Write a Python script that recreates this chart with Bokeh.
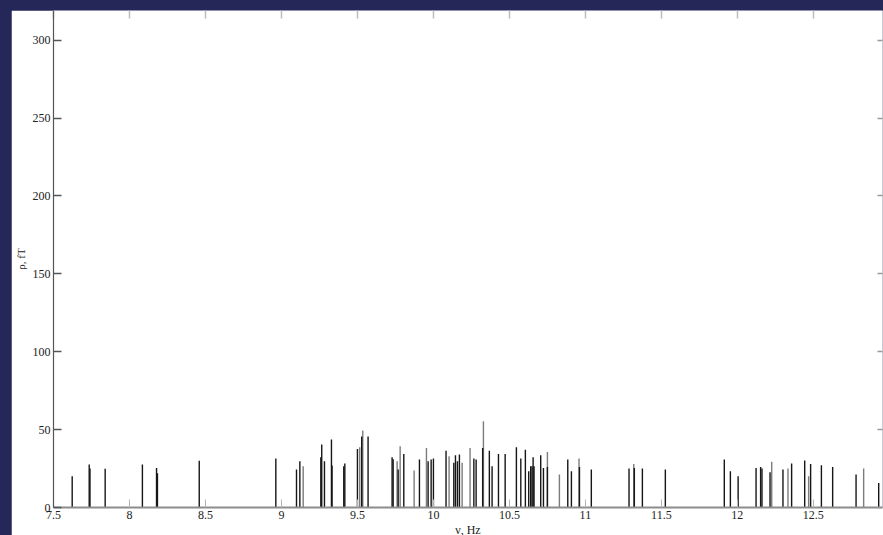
from bokeh.plotting import figure
from bokeh.models import LinearAxis, FixedTicker, Range1d, ColumnDataSource
from bokeh.layouts import column
from bokeh.embed import file_html
from bokeh.resources import INLINE

# Spectral lines: frequency (Hz) and amplitude (fT)
freq_dark = [7.623, 7.735, 7.740, 7.840, 8.085, 8.178, 8.184, 8.459, 8.963, 9.099,
             9.121, 9.259, 9.265, 9.283, 9.329, 9.333, 9.410, 9.417, 9.500, 9.528,
             9.570, 9.728, 9.735, 9.768, 9.805, 9.908, 9.965, 9.985, 10.000, 10.083,
             10.134, 10.145, 10.158, 10.171, 10.266, 10.281, 10.324, 10.368, 10.386, 10.428,
             10.472, 10.546, 10.575, 10.605, 10.627, 10.640, 10.649, 10.656, 10.662, 10.706,
             10.724, 10.750, 10.884, 10.908, 10.961, 11.039, 11.287, 11.322, 11.375, 11.526,
             11.914, 11.954, 12.005, 12.123, 12.153, 12.162, 12.215, 12.300, 12.357, 12.443,
             12.482, 12.553, 12.627, 12.781, 12.930]
amp_dark = [20.0, 27.6, 25.0, 24.8, 27.6, 25.4, 22.0, 30.0, 31.4, 24.4,
            29.7, 32.3, 40.4, 29.7, 43.6, 27.0, 26.5, 28.2, 37.6, 45.5,
            45.5, 32.3, 31.0, 24.4, 34.4, 30.8, 29.7, 30.8, 31.4, 36.5,
            28.8, 33.5, 29.7, 34.0, 31.4, 30.8, 38.2, 36.5, 26.5, 34.4,
            34.4, 38.7, 31.4, 37.0, 23.3, 26.5, 26.5, 32.3, 26.5, 33.5,
            25.4, 26.0, 30.8, 23.3, 26.0, 24.4, 25.0, 25.4, 25.0, 24.4,
            30.8, 23.3, 20.0, 25.4, 26.0, 25.0, 22.6, 24.4, 28.2, 30.2,
            28.0, 27.1, 26.0, 21.2, 15.8]

freq_light = [9.143, 9.515, 9.535, 9.761, 9.781, 9.873, 9.954, 10.103, 10.189, 10.241,
              10.329, 10.750, 10.829, 10.958, 11.318, 12.226, 12.333, 12.469, 12.831]
amp_light = [26.5, 38.7, 49.4, 29.7, 39.3, 23.7, 38.2, 32.9, 28.8, 38.2,
             55.3, 35.7, 21.2, 31.4, 28.0, 29.3, 25.0, 20.0, 25.0]

x_ticks = [7.5, 8.0, 8.5, 9.0, 9.5, 10.0, 10.5, 11.0, 11.5, 12.0, 12.5]
x_tick_labels = ["7.5", "8", "8.5", "9", "9.5", "10", "10.5", "11", "11.5", "12", "12.5"]
y_ticks = [0, 50, 100, 150, 200, 250, 300]
y_tick_labels = ["0", "50", "100", "150", "200", "250", "300"]

FONT = "Liberation Serif"
NAVY = "#242758"

chart = figure(width=872, height=529,
               x_range=Range1d(7.5, 12.955), y_range=Range1d(0, 319),
               output_backend="svg", toolbar_location=None,
               min_border_left=42, min_border_right=1,
               min_border_top=0, min_border_bottom=31)
chart.outline_line_color = None
chart.grid.visible = False
chart.background_fill_color = "white"
chart.border_fill_color = "white"

light_src = ColumnDataSource(dict(x=freq_light, y=amp_light, y0=[0] * len(freq_light)))
dark_src = ColumnDataSource(dict(x=freq_dark, y=amp_dark, y0=[0] * len(freq_dark)))
chart.segment(x0="x", y0="y0", x1="x", y1="y", source=light_src,
              line_color="#7c7c7c", line_width=1.4)
chart.segment(x0="x", y0="y0", x1="x", y1="y", source=dark_src,
              line_color="#161616", line_width=1.4)

xa = chart.xaxis[0]
xa.ticker = FixedTicker(ticks=x_ticks)
xa.major_label_overrides = {float(t): s for t, s in zip(x_ticks, x_tick_labels)}
xa.axis_line_color = "#8c8c8c"
xa.axis_line_width = 2
xa.major_tick_in = 8
xa.major_tick_out = 0
xa.major_tick_line_color = "#b4b4b4"
xa.minor_tick_line_color = None
xa.major_label_standoff = 3
xa.major_label_text_font = FONT
xa.major_label_text_font_size = "12px"
xa.major_label_text_color = "#222222"
xa.axis_label = "ν, Hz"
xa.axis_label_standoff = 1
xa.axis_label_text_font = FONT
xa.axis_label_text_font_size = "12px"
xa.axis_label_text_font_style = "normal"
xa.axis_label_text_color = "#222222"

ya = chart.yaxis[0]
ya.ticker = FixedTicker(ticks=y_ticks)
ya.major_label_overrides = {float(t): s for t, s in zip(y_ticks, y_tick_labels)}
ya.axis_line_color = "#555555"
ya.axis_line_width = 1.2
ya.major_tick_in = 8
ya.major_tick_out = 0
ya.major_tick_line_color = "#555555"
ya.major_tick_line_width = 1.5
ya.minor_tick_line_color = None
ya.major_label_standoff = 3
ya.major_label_text_font = FONT
ya.major_label_text_font_size = "12px"
ya.major_label_text_color = "#222222"
ya.axis_label = "ρ, fT"
ya.axis_label_standoff = 3
ya.axis_label_text_font = FONT
ya.axis_label_text_font_size = "11px"
ya.axis_label_text_font_style = "normal"
ya.axis_label_text_color = "#222222"

# mirrored tick marks along the top and right edges (no labels)
top_axis = LinearAxis(ticker=FixedTicker(ticks=x_ticks))
top_axis.axis_line_color = None
top_axis.major_tick_in = 8
top_axis.major_tick_out = 0
top_axis.major_tick_line_color = "#bdbdbd"
top_axis.major_tick_line_width = 1.5
top_axis.minor_tick_line_color = None
top_axis.major_label_text_color = None
top_axis.major_label_text_font_size = "1px"
top_axis.major_label_standoff = 0
chart.add_layout(top_axis, "above")

right_axis = LinearAxis(ticker=FixedTicker(ticks=y_ticks))
right_axis.axis_line_color = None
right_axis.major_tick_in = 5
right_axis.major_tick_out = 0
right_axis.major_tick_line_color = "#9a9a9a"
right_axis.major_tick_line_width = 1.5
right_axis.minor_tick_line_color = None
right_axis.major_label_text_color = None
right_axis.major_label_text_font_size = "1px"
right_axis.major_label_standoff = 0
chart.add_layout(right_axis, "right")

chart.margin = (10, 0, 0, 11)

p = column(chart, width=883, height=535,
           styles={"background-color": NAVY, "overflow": "hidden"})

open("out.html", "w").write(file_html(p, INLINE))
